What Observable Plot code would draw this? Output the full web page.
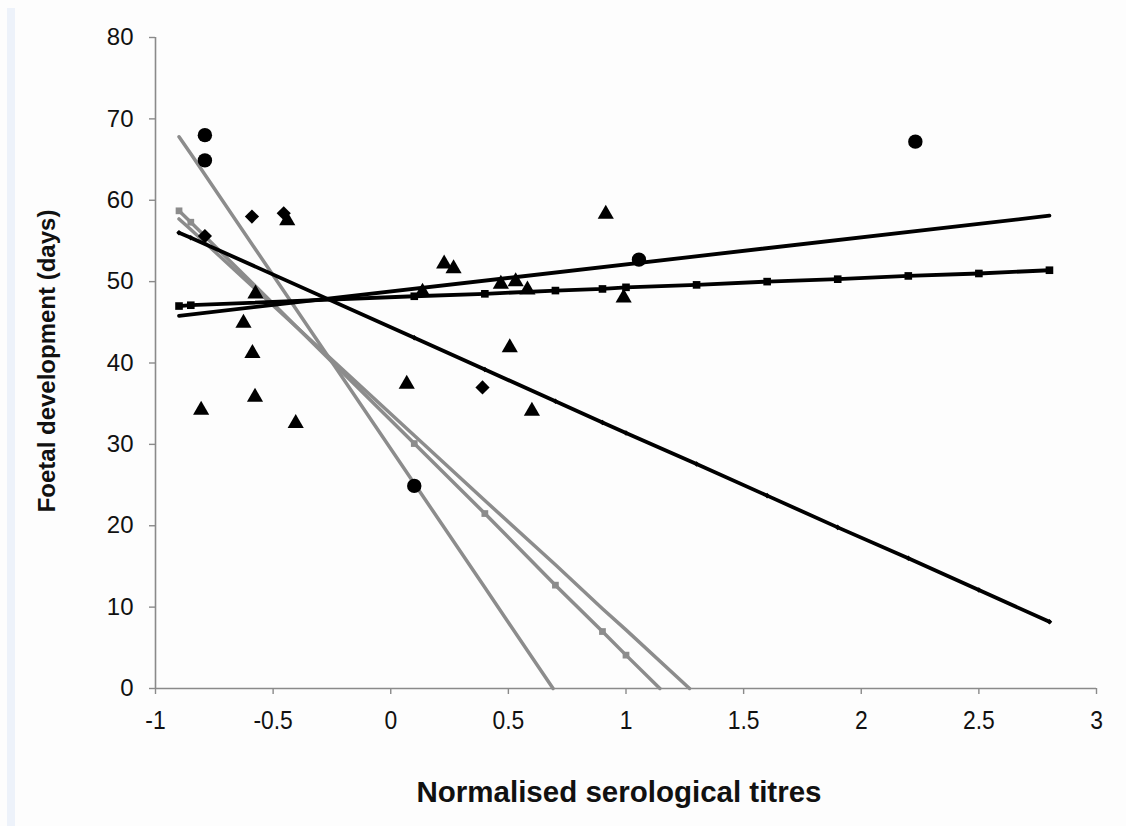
<!DOCTYPE html>
<html><head><meta charset="utf-8">
<script src="https://cdn.jsdelivr.net/npm/d3@7"></script>
<script src="https://cdn.jsdelivr.net/npm/@observablehq/plot@0.6"></script>
<style>
html,body{margin:0;padding:0;background:#fdfdfd;width:1126px;height:826px;overflow:hidden;}
#strip{position:absolute;left:7px;top:8px;width:8px;height:818px;background:#edf2fa;}
#chart{position:absolute;left:0;top:0;}
</style></head><body><div id="strip"></div><div id="chart"></div>
<script>
// Axis ticks
const xTicks = [-1, -0.5, 0, 0.5, 1, 1.5, 2, 2.5, 3];
const yTicks = [0, 10, 20, 30, 40, 50, 60, 70, 80];

// Regression lines (black)
const fitX = [-0.9, -0.85, 0.1, 0.4, 0.7, 0.9, 1.0, 1.3, 1.6, 1.9, 2.2, 2.5, 2.8];
const flatY = [47.0, 47.1, 48.2, 48.5, 48.9, 49.1, 49.3, 49.6, 50.0, 50.3, 50.7, 51.0, 51.4];
const fallY = [56.0, 55.4, 43.1, 39.2, 35.3, 32.7, 31.4, 27.6, 23.7, 19.8, 16.0, 12.1, 8.2];
const riseX = [-0.9, 2.8];
const riseY = [45.8, 58.1];

// Regression lines (grey)
const greyAX = [-0.9, -0.85, 0.1, 0.4, 0.7, 0.9, 1.0, 1.144];
const greyAY = [58.7, 57.3, 30.1, 21.5, 12.7, 7.0, 4.1, 0];
const greyBX = [-0.9, -0.85, 0.1, 0.4, 0.7, 0.9, 1.0, 1.27];
const greyBY = [57.7, 56.4, 31.1, 23.1, 15.2, 9.8, 7.2, 0];
const greyCX = [-0.9, -0.85, 0.1, 0.4, 0.69];
const greyCY = [67.8, 65.7, 25.2, 12.4, 0];

// Observations
const circleX = [-0.79, -0.79, 0.1, 1.055, 2.23];
const circleY = [68.0, 64.9, 24.9, 52.7, 67.2];
const diamondX = [-0.59, -0.455, -0.79, 0.39];
const diamondY = [58.0, 58.4, 55.6, 37.0];
const triX = [-0.806, -0.626, -0.588, -0.577, -0.575, -0.44, -0.404, 0.068, 0.135, 0.227, 0.267, 0.468, 0.531, 0.581, 0.506, 0.60, 0.914, 0.99];
const triY = [34.2, 44.9, 41.2, 35.8, 48.5, 57.5, 32.6, 37.4, 48.7, 52.2, 51.6, 49.7, 50.0, 49.0, 41.9, 34.1, 58.3, 48.0];

const pts = (xs, ys) => xs.map((x, i) => ({x, y: ys[i]}));
const flat = pts(fitX, flatY), fall = pts(fitX, fallY), rise = pts(riseX, riseY);
const gA = pts(greyAX, greyAY), gB = pts(greyBX, greyBY), gC = pts(greyCX, greyCY);
const circles = pts(circleX, circleY), diamonds = pts(diamondX, diamondY), tris = pts(triX, triY);

const GREY = "#8c8c8c", AX = "#8a8a8a", INK = "#111";
const NARROW = "'Liberation Sans Narrow', 'Liberation Sans', sans-serif";

const chart = Plot.plot({
  width: 1126, height: 826,
  marginLeft: 155, marginRight: 30, marginTop: 37, marginBottom: 138,
  x: {domain: [-1, 3]},
  y: {domain: [0, 80]},
  style: {background: "transparent", fontFamily: "'Liberation Sans', Arial, sans-serif"},
  marks: [
    Plot.ruleX([-1], {stroke: AX, strokeWidth: 1.6}),
    Plot.ruleY([0], {stroke: AX, strokeWidth: 1.6}),
    Plot.axisY({ticks: yTicks, tickSize: 6, tickPadding: 16, fontSize: 24, stroke: AX, strokeWidth: 1.4, fill: INK, label: null, tickFormat: d => String(d)}),
    Plot.axisX({ticks: xTicks, tickSize: 6, tickPadding: 16, fontSize: 26, stroke: AX, strokeWidth: 1.4, fill: INK, label: null, tickFormat: d => String(d), fontFamily: NARROW}),
    // grey fits
    Plot.line(gC, {x: "x", y: "y", stroke: GREY, strokeWidth: 3.5}),
    Plot.line(gB, {x: "x", y: "y", stroke: GREY, strokeWidth: 3.5}),
    Plot.line(gA, {x: "x", y: "y", stroke: GREY, strokeWidth: 3.5}),
    Plot.dot(gA.slice(0, -1), {x: "x", y: "y", symbol: "square", r: 3.8, fill: GREY}),
    // black fits
    Plot.line(rise, {x: "x", y: "y", stroke: "#000", strokeWidth: 3.8}),
    Plot.line(flat, {x: "x", y: "y", stroke: "#000", strokeWidth: 3.8}),
    Plot.dot(flat, {x: "x", y: "y", symbol: "square", r: 4.3, fill: "#000"}),
    Plot.line(fall, {x: "x", y: "y", stroke: "#000", strokeWidth: 3.8}),
    Plot.dot(fall, {x: "x", y: "y", symbol: "diamond2", r: 2.5, fill: "#000"}),
    // observations
    Plot.dot(circles, {x: "x", y: "y", symbol: "circle", r: 7.2, fill: "#000"}),
    Plot.dot(diamonds, {x: "x", y: "y", symbol: "diamond2", r: 6.4, fill: "#000"}),
    Plot.dot(tris, {x: "x", y: "y", symbol: "triangle", r: 6, fill: "#000"}),
    // axis titles
    Plot.text(["Foetal development (days)"], {frameAnchor: "left", rotate: -90, textAnchor: "middle", dx: -108, dy: -2, fontSize: 24, fontWeight: "bold", fill: INK}),
    Plot.text(["Normalised serological titres"], {frameAnchor: "bottom", textAnchor: "middle", dx: -7, dy: 113, fontSize: 29.5, fontWeight: "bold", fill: INK, fontFamily: NARROW})
  ]
});
document.getElementById("chart").appendChild(chart);
// condense the x tick labels slightly, as in the reference
d3.select(chart).selectAll('g[aria-label="x-axis tick label"] text')
  .attr("transform", function () { return (this.getAttribute("transform") || "") + " scale(0.88,1)"; });
</script>
</body></html>
